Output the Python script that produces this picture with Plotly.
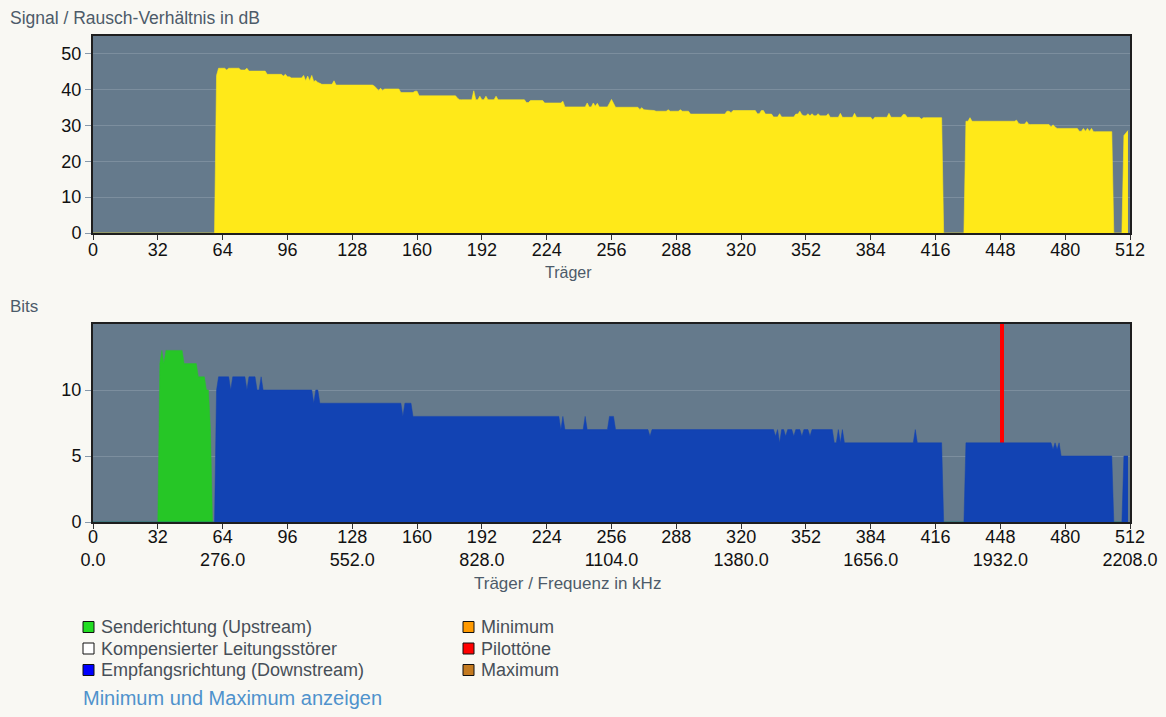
import plotly.graph_objects as go

W, H = 1166, 717

snr_runs = [
    (0, 60, 0), (61, 61, 44), (62, 65, 46), (66, 66, 45.5), (67, 72, 46),
    (73, 75, 45.5), (76, 76, 46), (77, 85, 45.2), (86, 93, 44.3), (94, 94, 43.8),
    (95, 95, 44.3), (96, 97, 43.6), (98, 103, 43.3), (104, 104, 44), (105, 105, 42.5),
    (106, 106, 43.8), (107, 107, 42.5), (108, 108, 44), (109, 109, 42.3), (110, 110, 42.6),
    (111, 111, 42), (112, 112, 41.8), (113, 118, 41.5), (119, 119, 42.5), (120, 138, 41.3),
    (139, 139, 41), (140, 140, 40.4), (141, 141, 39.8), (142, 142, 40.4), (143, 143, 39.8),
    (144, 151, 40.2), (152, 158, 39.2), (159, 160, 39.6), (161, 179, 38.3), (180, 180, 37.6),
    (181, 187, 37.2), (188, 188, 39.7), (189, 190, 37.2), (191, 191, 38.2), (192, 193, 37.2),
    (194, 194, 38.2), (195, 198, 37.2), (199, 199, 38.2), (200, 213, 37.2), (214, 215, 36.4),
    (216, 222, 37.0), (223, 231, 36.3), (232, 232, 36.8), (233, 243, 35.2), (244, 244, 36.3),
    (245, 246, 35.2), (247, 247, 36.3), (248, 248, 35.4), (249, 249, 36.2), (250, 254, 35.2),
    (255, 255, 36.2), (256, 256, 37.3), (257, 257, 36.2), (258, 269, 35.1), (270, 270, 34.5),
    (271, 271, 35), (272, 273, 34.4), (274, 277, 34.2), (278, 283, 34.0), (284, 284, 34.4),
    (285, 289, 34.0), (290, 290, 34.4), (291, 294, 34.0), (295, 312, 33.2), (313, 314, 34.0),
    (315, 315, 33.6), (316, 327, 34.2), (328, 329, 33.3), (330, 331, 34.2), (332, 335, 33.2),
    (336, 338, 32.4), (339, 339, 33.3), (340, 346, 32.4), (347, 348, 33.2), (349, 349, 34.0),
    (350, 350, 33.0), (351, 352, 32.7), (353, 353, 33.3), (354, 354, 32.7), (355, 355, 33.3),
    (356, 357, 32.7), (358, 358, 33.3), (359, 362, 32.7), (363, 363, 33.3), (364, 368, 32.3),
    (369, 369, 33.4), (370, 375, 32.3), (376, 376, 33.4), (377, 384, 32.3), (385, 385, 31.6),
    (386, 392, 32.3), (393, 393, 33.4), (394, 399, 32.3), (400, 401, 33.1), (402, 408, 32.3),
    (409, 409, 31.8), (410, 419, 32.2), (420, 430, 0), (431, 432, 31.2), (433, 433, 32.2),
    (434, 455, 31.2), (456, 456, 31.5), (457, 457, 30.6), (458, 460, 30.4), (461, 461, 31.1),
    (462, 472, 30.3), (473, 473, 29.6), (474, 474, 30.2), (475, 475, 29.6), (476, 486, 29.2),
    (487, 488, 28.4), (489, 489, 29.2), (490, 490, 28.4), (491, 491, 29.2), (492, 492, 28.4),
    (493, 493, 29.2), (494, 503, 28.3), (504, 508, 0), (509, 509, 27.2), (510, 510, 28.0),
    (511, 511, 28.6),
]

# Bits je Träger, Senderichtung (Upstream)
bits_up_runs = [
    (33, 33, 12), (34, 34, 13), (35, 35, 12), (36, 44, 13), (45, 51, 12),
    (52, 55, 11), (56, 57, 10), (58, 58, 7),
]

# Bits je Träger, Empfangsrichtung (Downstream)
bits_down_runs = [
    (61, 61, 10), (62, 67, 11), (68, 68, 10), (69, 75, 11), (76, 76, 10),
    (77, 80, 11), (81, 82, 10), (83, 83, 11), (84, 108, 10), (109, 109, 9),
    (110, 111, 10), (112, 152, 9), (153, 153, 8), (154, 157, 9), (158, 230, 8),
    (231, 231, 7), (232, 232, 8), (233, 242, 7), (243, 243, 8), (244, 254, 7),
    (255, 257, 8), (258, 274, 7), (275, 275, 6.5), (276, 336, 7), (337, 337, 6.5),
    (338, 338, 7), (339, 339, 6), (340, 341, 7), (342, 342, 6.5), (343, 345, 7),
    (346, 346, 6.5), (347, 349, 7), (350, 350, 6.5), (351, 353, 7), (354, 354, 6.5),
    (355, 365, 7), (366, 367, 6), (368, 368, 7), (369, 369, 6), (370, 370, 7),
    (371, 405, 6), (406, 406, 7), (407, 419, 6), (431, 473, 6), (474, 474, 5.5),
    (475, 475, 6), (476, 476, 5.5), (477, 477, 6), (478, 503, 5), (509, 511, 5),
]

pilot_tones = [448]

carrier_ticks = [0, 32, 64, 96, 128, 160, 192, 224, 256, 288, 320, 352, 384, 416, 448, 480, 512]
freq_labels = ["0.0", "", "276.0", "", "552.0", "", "828.0", "", "1104.0", "",
               "1380.0", "", "1656.0", "", "1932.0", "", "2208.0"]

legend_left = [("Senderichtung (Upstream)", "#22dd22"),
               ("Kompensierter Leitungsstörer", "#ffffff"),
               ("Empfangsrichtung (Downstream)", "#0000ff")]
legend_right = [("Minimum", "#ff9a00"),
                ("Pilottöne", "#ff0000"),
                ("Maximum", "#c47a20")]

N = 512


def expand(runs):
    vals = [0.0] * N
    for a, b, v in runs:
        for c in range(a, b + 1):
            vals[c] = v
    return vals


carriers = list(range(N))
snr = expand(snr_runs)
bits_up = expand(bits_up_runs)
bits_down = expand(bits_down_runs)


def px(x):
    return x / W


def py(y):
    return 1 - y / H


FONT = "Liberation Sans, Arial, sans-serif"
BG = "#f9f8f3"
PLOT_BG = "#657a8c"
GRID = "#7c8e9e"

fig = go.Figure()

fig.add_trace(go.Scatter(
    x=carriers, y=snr, mode="lines", fill="tozeroy",
    line=dict(color="#ffe919", width=0.6), fillcolor="#ffe919",
    xaxis="x", yaxis="y", hoverinfo="x+y", showlegend=False,
))
fig.add_trace(go.Scatter(
    x=carriers, y=bits_up, mode="lines", fill="tozeroy",
    line=dict(color="#26c626", width=0.5), fillcolor="#26c626",
    xaxis="x2", yaxis="y2", showlegend=False,
))
fig.add_trace(go.Scatter(
    x=carriers, y=bits_down, mode="lines", fill="tozeroy",
    line=dict(color="#1243b3", width=0.5), fillcolor="#1243b3",
    xaxis="x2", yaxis="y2", showlegend=False,
))
fig.add_trace(go.Bar(
    x=pilot_tones, y=[15] * len(pilot_tones), width=2, offset=-0.3,
    marker=dict(color="#ff0000", line=dict(width=0)),
    xaxis="x2", yaxis="y2", showlegend=False,
))

xdom = [px(93), px(1130)]
axis_common = dict(
    showline=True, mirror=True, linecolor="#1e1e1e", linewidth=2,
    zeroline=False, automargin=False,
    tickfont=dict(family=FONT, size=18, color="#111111"),
)

fig.update_layout(
    width=W, height=H, autosize=False,
    margin=dict(l=0, r=0, t=0, b=0, pad=0, autoexpand=False),
    paper_bgcolor=BG, plot_bgcolor=PLOT_BG,
    font=dict(family=FONT),
    bargap=0,
    xaxis=dict(
        domain=xdom, anchor="y", range=[0, 512],
        tickmode="array", tickvals=carrier_ticks,
        ticktext=[str(t) for t in carrier_ticks],
        ticks="outside", ticklen=5, tickcolor="#333333", showgrid=False,
        ticklabelstandoff=-6,
        **axis_common,
    ),
    yaxis=dict(
        domain=[py(233), py(36)], anchor="x", range=[0, 55],
        tickvals=[0, 10, 20, 30, 40, 50],
        ticks="outside", ticklen=6, tickcolor="#8899aa",
        showgrid=True, gridcolor=GRID, gridwidth=1,
        **axis_common,
    ),
    xaxis2=dict(
        domain=xdom, anchor="y2", range=[0, 512],
        tickmode="array", tickvals=carrier_ticks,
        ticktext=[f"{t}<br>{f}" if f else str(t) for t, f in zip(carrier_ticks, freq_labels)],
        ticks="outside", ticklen=5, tickcolor="#333333", showgrid=False,
        ticklabelstandoff=-8,
        **axis_common,
    ),
    yaxis2=dict(
        domain=[py(522), py(324)], anchor="x2", range=[0, 15],
        tickvals=[0, 5, 10],
        ticks="outside", ticklen=6, tickcolor="#8899aa",
        showgrid=True, gridcolor=GRID, gridwidth=1,
        **axis_common,
    ),
)

title_color = "#4d5b69"
annotations = [
    dict(text="Signal / Rausch-Verhältnis in dB", x=px(8), y=py(18),
         xanchor="left", yanchor="middle",
         font=dict(family=FONT, size=17.5, color=title_color)),
    dict(text="Träger", x=px(568), y=py(272),
         xanchor="center", yanchor="middle",
         font=dict(family=FONT, size=16, color=title_color)),
    dict(text="Bits", x=px(8), y=py(306),
         xanchor="left", yanchor="middle",
         font=dict(family=FONT, size=17, color=title_color)),
    dict(text="Träger / Frequenz in kHz", x=px(567), y=py(583),
         xanchor="center", yanchor="middle",
         font=dict(family=FONT, size=17, color=title_color)),
    dict(text="Minimum und Maximum anzeigen", x=px(81), y=py(698),
         xanchor="left", yanchor="middle",
         font=dict(family=FONT, size=20, color="#4f92cc")),
]
shapes = []
legend_font = dict(family=FONT, size=18, color="#474f58")
for col_x, items in ((83, legend_left), (463, legend_right)):
    for i, (label, color) in enumerate(items):
        yc = 627 + i * 21.5
        shapes.append(dict(
            type="rect", xref="paper", yref="paper",
            x0=px(col_x), x1=px(col_x + 11), y0=py(yc + 5.5), y1=py(yc - 5.5),
            fillcolor=color, line=dict(color="#111111", width=1),
        ))
        annotations.append(dict(
            text=label, x=px(col_x + 16), y=py(yc), xanchor="left", yanchor="middle",
            font=legend_font,
        ))

for a in annotations:
    a.update(xref="paper", yref="paper", showarrow=False)

fig.update_layout(annotations=annotations, shapes=shapes)

fig.write_html(
    "out.html",
    config={"responsive": False, "displayModeBar": False},
    post_script="document.body.style.margin='0';document.body.style.background='%s';" % BG,
)
